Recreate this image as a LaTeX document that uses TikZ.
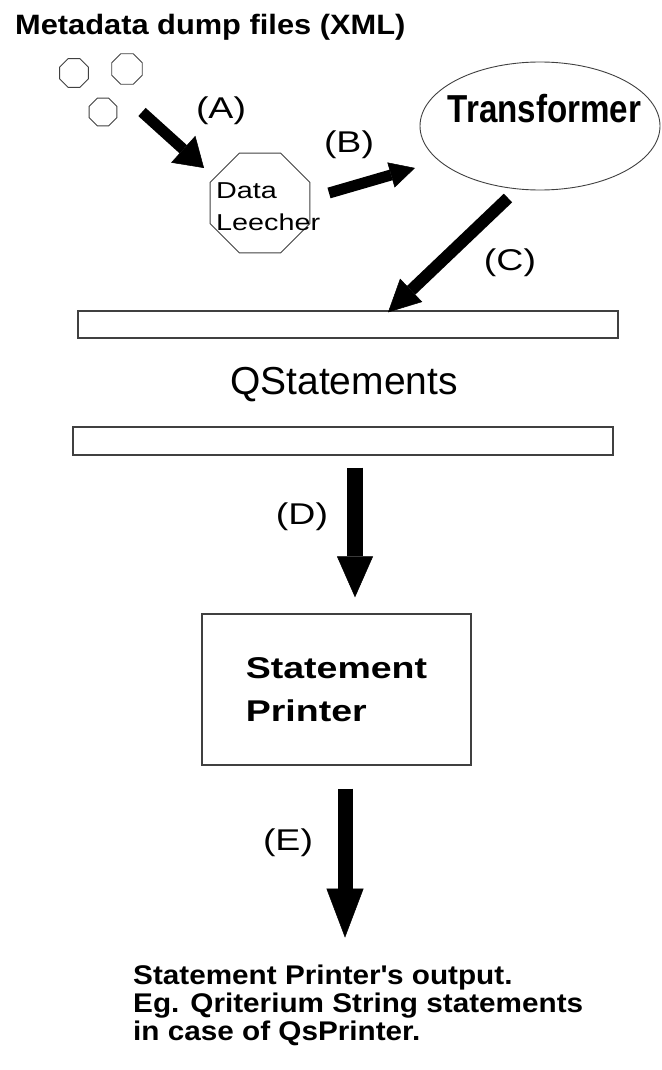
\documentclass[tikz,border=0pt]{standalone}
\usepackage{fontspec}
\setmainfont{Liberation Sans}
\newfontfamily\widefont{Liberation Sans}[FakeStretch=1.25]
\newfontfamily\titlefont{Liberation Sans}[FakeStretch=1.1]
\newfontfamily\narrowfont{Liberation Sans}[FakeStretch=0.85]
\usetikzlibrary{shapes.geometric, arrows.meta}
\tikzset{
	steplabel/.style={font=\widefont\fontsize{30}{30}\selectfont, inner sep=0pt, anchor=base}
}
\tikzset{
	bigarrow/.style n args={3}{draw=black, line width=#1, -{Triangle[length=#2, width=#3, line width=0.5pt]}}
}

\begin{document}
\begin{tikzpicture}[x=1pt, y=-1pt]

\tikzset{
    dumpfile/.style={
        shape=regular polygon,
        regular polygon sides=8,
        draw=black!75,
        line width=0.9pt,
        inner sep=0pt
    },
    bar/.style={
        shape=rectangle,
        draw=black!75,
        line width=1.3pt,
        minimum width=540pt,
        minimum height=27pt,
        inner sep=0pt
    }
}

\useasboundingbox (0,0) rectangle (661,1070);

\node[anchor=base west, inner sep=0pt, font=\titlefont\bfseries\fontsize{28}{28}\selectfont] (title) at (15,35) {Metadata dump files (XML)};

\node[dumpfile, minimum size=31pt] (f1) at (74,73) {};
\node[dumpfile, minimum size=33pt] (f2) at (127,69) {};
\node[dumpfile, minimum size=30pt] (f3) at (103,112) {};

\node[dumpfile, minimum size=108pt] (leecher) at (260,203) {};
\node[anchor=north west, inner sep=0pt, align=left, font=\widefont\fontsize{23}{32}\selectfont] (leechertext) at (216,182) {Data\\Leecher};

\node[ellipse, draw=black!75, line width=0.9pt, minimum width=240pt, minimum height=128pt, inner sep=0pt] (trans) at (540,126) {};
\node[anchor=base, inner sep=0pt, font=\narrowfont\bfseries\fontsize{39}{39}\selectfont] (transtext) at (544.5,123) {Transformer};

\node[bar] (bar1) at (348,324.5) {};
\node[anchor=base, inner sep=0pt, font=\fontsize{39}{39}\selectfont] (qstate) at (344,394) {QStatements};
\node[bar, minimum height=28pt] (bar2) at (343,441) {};

\node[draw=black!75, line width=1.3pt, minimum width=269pt, minimum height=151pt, inner sep=0pt, align=left, font=\widefont\bfseries\fontsize{30}{43}\selectfont] (printer) at (336.5,689.5) {Statement\\Printer};

\node[anchor=north west, inner sep=0pt, align=left, font=\titlefont\bfseries\fontsize{27}{28}\selectfont] (output) at (133,965) {Statement Printer\textquotesingle s output.\\Eg. Qriterium String statements\\in case of QsPrinter.};

% step labels
\node[steplabel] (la) at (221,118) {(A)};
\node[steplabel] (lb) at (349,152) {(B)};
\node[steplabel] (lc) at (510,270) {(C)};
\node[steplabel] (ld) at (302,524) {(D)};
\node[steplabel] (le) at (288,850) {(E)};

% flow arrows
\draw[bigarrow={11pt}{28pt}{36pt}] ([xshift=39pt]f3.center) -- ([shift={(-56pt,35pt)}]leecher.center);
\draw[bigarrow={11pt}{25pt}{26pt}] ([shift={(69pt,10pt)}]leecher.center) -- ([shift={(-125pt,-42pt)}]trans.center);
\draw[bigarrow={12pt}{32pt}{32pt}] ([shift={(-32pt,-72pt)}]trans.center) -- ([shift={(40pt,-2pt)}]bar1.north);
\draw[bigarrow={16pt}{41pt}{36pt}] ([shift={(12pt,-12pt)}]bar2.south) -- ([shift={(18.5pt,16pt)}]printer.north);
\draw[bigarrow={15pt}{49pt}{37pt}] ([shift={(8.5pt,-23pt)}]printer.south) -- ([shift={(8.5pt,-172pt)}]printer.south);
\end{tikzpicture}
\end{document}
